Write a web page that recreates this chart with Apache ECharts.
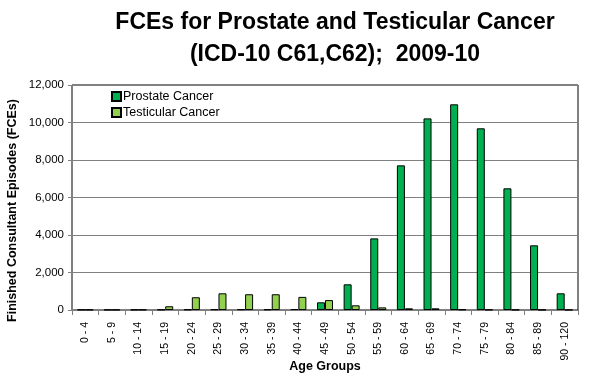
<!DOCTYPE html>
<html>
<head>
<meta charset="utf-8">
<script src="https://cdn.jsdelivr.net/npm/echarts@6/dist/echarts.min.js"></script>
<style>
  html, body { margin: 0; padding: 0; background: #fff; }
  #chart { width: 596px; height: 377px; }
</style>
</head>
<body>
<div id="chart"></div>
<script>
// 年龄组
const ageGroups = ['0 - 4', '5 - 9', '10 - 14', '15 - 19', '20 - 24', '25 - 29', '30 - 34', '35 - 39',
  '40 - 44', '45 - 49', '50 - 54', '55 - 59', '60 - 64', '65 - 69', '70 - 74', '75 - 79',
  '80 - 84', '85 - 89', '90 - 120']

// 前列腺癌
const prostate = [20, 15, 15, 25, 30, 40, 40, 35, 50, 410, 1370, 3820, 7715, 10220, 10970, 9690, 6490, 3450, 890]
// 睾丸癌
const testicular = [15, 15, 20, 200, 680, 890, 840, 840, 700, 530, 250, 140, 90, 90, 30, 20, 15, 10, 10]

const yTicks = [0, 2000, 4000, 6000, 8000, 10000, 12000]

const chart = echarts.init(document.getElementById('chart'))

const option = {
  backgroundColor: '#fff',
  animation: false,
  textStyle: { fontFamily: 'Arial, Liberation Sans, sans-serif' },
  title: {
    text: 'FCEs for Prostate and Testicular Cancer\n(ICD-10 C61,C62);  2009-10',
    left: 330,
    textAlign: 'center',
    top: 2,
    textStyle: {
      fontSize: 23,
      fontWeight: 'bold',
      color: '#000',
      lineHeight: 32,
      fontFamily: 'Arial, Liberation Sans, sans-serif'
    }
  },
  legend: {
    orient: 'vertical',
    left: 106,
    top: 85,
    itemWidth: 9,
    itemHeight: 9,
    itemGap: 3,
    icon: 'rect',
    data: ['Prostate Cancer', 'Testicular Cancer'],
    textStyle: { fontSize: 12.5, color: '#000', padding: [0, 0, 0, -3] }
  },
  grid: {
    left: 72,
    right: 18,
    top: 85,
    bottom: 67,
    show: true,
    borderColor: '#000',
    borderWidth: 1,
    containLabel: false,
    outerBoundsMode: 'none'
  },
  xAxis: {
    type: 'category',
    data: ageGroups,
    name: 'Age Groups',
    nameLocation: 'middle',
    nameGap: 50,
    nameMoveOverlap: false,
    nameTextStyle: { fontSize: 12.5, fontWeight: 'bold', color: '#000' },
    axisLine: { lineStyle: { color: '#808080' } },
    axisTick: { show: true, length: 5, lineStyle: { color: '#808080' } },
    axisLabel: { rotate: 90, fontSize: 10.5, color: '#000', margin: 12, interval: 0 }
  },
  yAxis: {
    type: 'value',
    min: 0,
    max: 12000,
    interval: 2000,
    name: 'Finished Consultant Episodes (FCEs)',
    nameLocation: 'middle',
    nameGap: 53,
    nameMoveOverlap: false,
    nameTextStyle: { fontSize: 12.5, fontWeight: 'bold', color: '#000', padding: [0, 26, 0, 0] },
    axisLine: { show: true, lineStyle: { color: '#808080' } },
    axisTick: { show: true, length: 4, lineStyle: { color: '#808080' } },
    axisLabel: {
      fontSize: 11.5,
      color: '#000',
      margin: 8,
      formatter: (v) => yTicks.includes(v) ? v.toLocaleString('en-US') : ''
    },
    splitLine: { lineStyle: { color: '#808080' } }
  },
  series: [
    {
      name: 'Prostate Cancer',
      type: 'bar',
      data: prostate,
      barWidth: 8,
      barGap: '0%',
      itemStyle: { color: '#00B050', borderColor: '#000', borderWidth: 1 }
    },
    {
      name: 'Testicular Cancer',
      type: 'bar',
      data: testicular,
      barWidth: 8,
      barGap: '0%',
      itemStyle: { color: '#92D050', borderColor: '#000', borderWidth: 1 }
    }
  ]
}

chart.setOption(option)
</script>
</body>
</html>
